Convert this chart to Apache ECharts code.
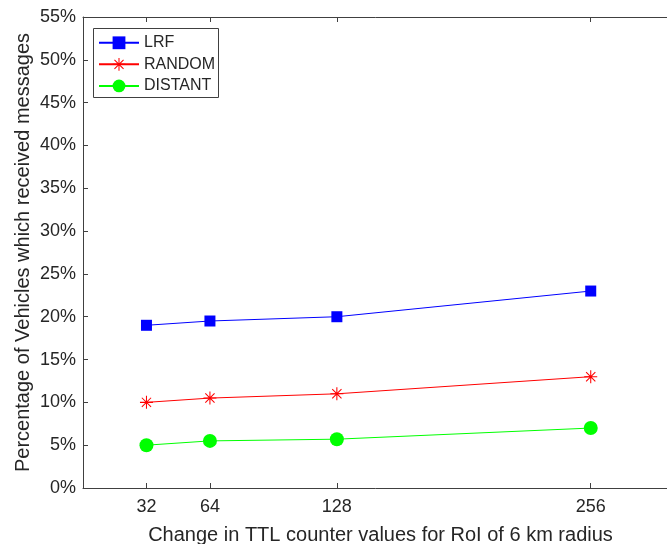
<!DOCTYPE html>
<html>
    <head>
        <title>ttl_chart</title>
        <script src="https://cdn.jsdelivr.net/npm/echarts@6/dist/echarts.min.js"></script>
        <style>
            html, body { margin: 0; padding: 0; background: #fff; }
        </style>
    </head>
    <body>
        <div id="main" style="width: 667px; height: 544px;"></div>
        <script>
            var ttl_values = [32, 64, 128, 256];
            var lrf = [19, 19.5, 20, 23];
            var random = [10, 10.5, 11, 13];
            var distant = [5, 5.5, 5.7, 7];
            var x_ticks = [32, 64, 128, 256];

            // asterisk marker like matlab '*'
            var star = 'path://M0 9.2L20 9.2L20 10.8L0 10.8Z M9.2 0L10.8 0L10.8 20L9.2 20Z ' +
                'M3.47 2.33L17.67 16.53L16.53 17.67L2.33 3.47Z M16.53 2.33L17.67 3.47L3.47 17.67L2.33 16.53Z';

            function pairs(ys) {
                return ttl_values.map(function (x, i) { return [x, ys[i]]; });
            }

            var axis_color = '#404040';
            var text_color = '#262626';
            var font = 'Liberation Sans';

            var myChart = echarts.init(document.getElementById('main'));
            var option = {
                animation: false,
                textStyle: { fontFamily: font },
                grid: { left: 83, top: 17, right: -11, bottom: 56, outerBoundsMode: 'none', containLabel: false },
                // legend frame drawn separately, the legend box itself comes out too tall
                graphic: [{
                    type: 'rect',
                    shape: { x: 93.5, y: 28.5, width: 125, height: 69 },
                    style: { fill: '#fff', stroke: axis_color, lineWidth: 1 },
                    z: 0
                }],
                legend: {
                    orient: 'vertical',
                    left: 93,
                    top: 28,
                    padding: [1, 4, 0, 5],
                    itemWidth: 40,
                    itemHeight: 16,
                    itemGap: -6,
                    z: 10,
                    textStyle: { fontSize: 16, lineHeight: 14, color: text_color, fontFamily: font },
                    data: ['LRF', 'RANDOM', 'DISTANT']
                },
                xAxis: [{
                    type: 'value',
                    min: 0,
                    max: 300,
                    position: 'bottom',
                    name: 'Change in TTL counter values for RoI of 6 km radius',
                    nameLocation: 'middle',
                    nameGap: 30,
                    nameMoveOverlap: false,
                    nameTextStyle: { fontSize: 20, color: text_color },
                    splitLine: { show: false },
                    axisLine: { lineStyle: { color: axis_color } },
                    axisTick: { inside: true, length: 5, lineStyle: { color: axis_color }, customValues: x_ticks },
                    axisLabel: { fontSize: 18, color: text_color, margin: 4, customValues: x_ticks }
                }, {
                    type: 'value',
                    min: 0,
                    max: 300,
                    position: 'top',
                    splitLine: { show: false },
                    axisLine: { lineStyle: { color: axis_color } },
                    axisTick: { inside: true, length: 5, lineStyle: { color: axis_color }, customValues: x_ticks },
                    axisLabel: { show: false }
                }],
                yAxis: {
                    type: 'value',
                    min: 0,
                    max: 55,
                    interval: 5,
                    name: 'Percentage of Vehicles which received messages',
                    nameLocation: 'middle',
                    nameGap: 42,
                    nameMoveOverlap: false,
                    nameTextStyle: { fontSize: 20, color: text_color },
                    splitLine: { show: false },
                    axisLine: { show: true, lineStyle: { color: axis_color } },
                    axisTick: { show: true, inside: true, length: 5, lineStyle: { color: axis_color } },
                    axisLabel: { fontSize: 18, color: text_color, margin: 7, formatter: '{value}%' }
                },
                series: [
                    {
                        name: 'LRF',
                        type: 'line',
                        data: pairs(lrf),
                        symbol: 'rect',
                        symbolSize: 11,
                        itemStyle: { color: '#0000ff' },
                        lineStyle: { color: '#0000ff', width: 1 }
                    },
                    {
                        name: 'RANDOM',
                        type: 'line',
                        data: pairs(random),
                        symbol: star,
                        symbolSize: 13,
                        itemStyle: { color: '#ff0000' },
                        lineStyle: { color: '#ff0000', width: 1 }
                    },
                    {
                        name: 'DISTANT',
                        type: 'line',
                        data: pairs(distant),
                        symbol: 'circle',
                        symbolSize: 14,
                        itemStyle: { color: '#00ff00' },
                        lineStyle: { color: '#00ff00', width: 1 }
                    }
                ]
            };
            myChart.setOption(option);
        </script>
    </body>
</html>
